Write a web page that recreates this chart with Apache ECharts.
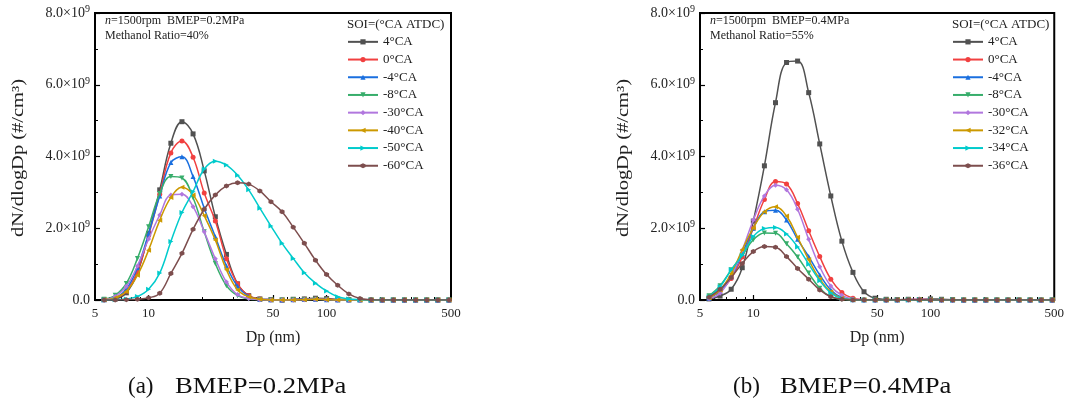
<!DOCTYPE html>
<html><head><meta charset="utf-8">
<script src="https://cdn.jsdelivr.net/npm/echarts@6/dist/echarts.min.js"></script>
<style>html,body{margin:0;padding:0;background:#fff}#c{width:1067px;height:406px}</style>
</head><body><div id="c"></div>
<script>
// Particle diameter channels (nm)
const dp = [5.62, 6.49, 7.50, 8.66, 10.0, 11.55, 13.34, 15.40, 17.78, 20.54, 23.71, 27.38, 31.62, 36.52, 42.17, 48.70,
            56.23, 64.94, 74.99, 86.60, 100.0, 115.48, 133.35, 153.99, 177.83, 205.35, 237.14, 273.84, 316.23, 365.17, 421.70, 486.97];
const xLabelValues = [5, 10, 50, 100, 500];
const xMajorTicks = [10, 50, 100];
const xMinorTicks = [6, 7, 8, 9, 20, 30, 40, 60, 70, 80, 90, 200, 300, 400];

// (a) BMEP = 0.2 MPa, values in 10^9 #/cm^3
const namesA = ['4°CA', '0°CA', '-4°CA', '-8°CA', '-30°CA', '-40°CA', '-50°CA', '-60°CA'];
const a_p4  = [0.01,0.03,0.20,0.75,1.85,3.07,4.37,4.97,4.63,3.60,2.32,1.27,0.45,0.12,0.03,0.01,0.00,0.02,0.03,0.05,0.04,0.02,0.01,0.01,0,0,0,0,0,0,0,0];
const a_0   = [0.01,0.05,0.25,0.80,1.80,2.95,4.10,4.43,3.98,2.98,2.20,1.15,0.45,0.12,0.03,0.01,0,0.01,0.02,0.03,0.02,0.01,0,0,0,0,0,0,0,0,0,0];
const a_m4  = [0.01,0.06,0.30,0.90,1.85,2.90,3.83,3.99,3.44,2.56,1.76,0.95,0.38,0.10,0.02,0.01,0,0.01,0.02,0.02,0.01,0,0,0,0,0,0,0,0,0,0,0];
const a_m8  = [0.02,0.13,0.46,1.16,2.04,2.97,3.44,3.40,2.85,1.90,1.02,0.40,0.12,0.03,0.01,0,0,0.01,0.01,0.02,0.01,0,0,0,0,0,0,0,0,0,0,0];
const a_m30 = [0.01,0.10,0.38,0.95,1.70,2.37,2.93,2.95,2.60,1.90,1.15,0.50,0.15,0.04,0.01,0,0,0,0.01,0.02,0.01,0,0,0,0,0,0,0,0,0,0,0];
const a_m40 = [0.01,0.06,0.24,0.69,1.39,2.22,2.86,3.14,2.93,2.35,1.67,0.84,0.28,0.09,0.02,0,0,0,0.01,0.02,0.01,0,0,0,0,0,0,0,0,0,0,0];
const a_m50 = [0,0.01,0.03,0.10,0.30,0.75,1.63,2.44,3.02,3.65,3.87,3.76,3.48,3.07,2.56,2.06,1.58,1.16,0.76,0.47,0.25,0.09,0.03,0.01,0,0,0,0,0,0,0,0];
const a_m60 = [0,0,0.01,0.02,0.06,0.19,0.74,1.30,1.97,2.53,2.93,3.18,3.27,3.23,3.04,2.74,2.46,2.03,1.58,1.11,0.71,0.41,0.17,0.04,0.01,0,0,0,0,0,0,0];

// (b) BMEP = 0.4 MPa
const namesB = ['4°CA', '0°CA', '-4°CA', '-8°CA', '-30°CA', '-32°CA', '-34°CA', '-36°CA'];
const b_p4  = [0.03,0.11,0.30,0.90,2.20,3.74,5.50,6.62,6.66,5.78,4.35,2.90,1.64,0.77,0.23,0.05,0.02,0.01,0.02,0.01,0.03,0.02,0.01,0,0,0,0,0,0,0,0,0];
const b_0   = [0.05,0.25,0.60,1.20,2.00,2.80,3.30,3.23,2.69,1.93,1.21,0.58,0.21,0.05,0.01,0,0,0.01,0.01,0.02,0.01,0,0,0,0,0,0,0,0,0,0,0];
const b_m4  = [0.05,0.25,0.65,1.30,2.00,2.46,2.50,2.23,1.69,1.21,0.70,0.28,0.07,0.01,0,0,0,0,0.01,0.01,0,0,0,0,0,0,0,0,0,0,0,0];
const b_m8  = [0.12,0.40,0.84,1.25,1.68,1.87,1.86,1.57,1.20,0.75,0.33,0.09,0.02,0,0,0,0,0,0.01,0.01,0,0,0,0,0,0,0,0,0,0,0,0];
const b_m30 = [0.04,0.19,0.65,1.39,2.23,2.90,3.20,3.07,2.53,1.69,0.93,0.39,0.13,0.03,0.01,0,0,0,0.01,0.02,0.01,0,0,0,0,0,0,0,0,0,0,0];
const b_m32 = [0.06,0.28,0.74,1.40,2.01,2.46,2.60,2.34,1.75,1.12,0.58,0.23,0.05,0.01,0,0,0,0,0.01,0.01,0,0,0,0,0,0,0,0,0,0,0,0];
const b_m34 = [0.09,0.37,0.84,1.25,1.77,1.99,2.02,1.84,1.48,1.00,0.54,0.20,0.04,0.01,0,0,0,0,0,0.01,0,0,0,0,0,0,0,0,0,0,0,0];
const b_m36 = [0.08,0.30,0.63,1.02,1.35,1.49,1.47,1.21,0.88,0.58,0.28,0.09,0.02,0,0,0,0,0,0.01,0.01,0,0,0,0,0,0,0,0,0,0,0,0];

const valuesA = [a_p4, a_0, a_m4, a_m8, a_m30, a_m40, a_m50, a_m60];
const valuesB = [b_p4, b_0, b_m4, b_m8, b_m30, b_m32, b_m34, b_m36];

const colors = ['#515151', '#F14040', '#1A6FDF', '#37AD6B', '#B177DE', '#CC9900', '#00CBCC', '#7D4E4E'];
const symbols = ['rect', 'circle', 'triangle', 'path://M0,0 L10,0 L5,10 Z', 'diamond',
                 'path://M10,0 L10,10 L0,5 Z', 'path://M0,0 L0,10 L10,5 Z', 'path://M5,0 L10,2.6 L10,7.4 L5,10 L0,7.4 L0,2.6 Z'];

const FONT = '"Liberation Serif","Times New Roman",serif';
const TXT = '#222';
const gridW = 356, gridH = 287, gridTop = 13;
const gridLefts = [95, 700];

function xAxes(gi) {
  return [
    { type: 'log', logBase: 10, gridIndex: gi, min: 5, max: 500, position: 'bottom',
      name: 'Dp (nm)', nameLocation: 'middle', nameGap: 30,
      nameTextStyle: { fontFamily: FONT, fontSize: 16, color: TXT },
      axisLine: { show: true, lineStyle: { color: '#000', width: 2 } },
      axisTick: { show: true, inside: true, length: 5, customValues: xMajorTicks, lineStyle: { color: '#000', width: 1.2 } },
      axisLabel: { show: true, customValues: xLabelValues, margin: 7, fontFamily: FONT, fontSize: 13, color: TXT },
      splitLine: { show: false }, minorTick: { show: false } },
    { type: 'log', logBase: 10, gridIndex: gi, min: 5, max: 500, position: 'bottom', offset: 0,
      axisLine: { show: false },
      axisTick: { show: true, inside: true, length: 3, customValues: xMinorTicks, lineStyle: { color: '#000', width: 1 } },
      axisLabel: { show: false }, splitLine: { show: false } }
  ];
}
function yAxis(gi) {
  return { type: 'value', gridIndex: gi, min: 0, max: 8, interval: 2,
    axisLine: { show: true, lineStyle: { color: '#000', width: 2 } },
    axisTick: { show: true, inside: true, length: 5, lineStyle: { color: '#000', width: 1.2 } },
    minorTick: { show: true, splitNumber: 2, length: 3, lineStyle: { color: '#000', width: 1 } },
    splitLine: { show: false },
    axisLabel: { margin: 5, fontFamily: FONT, fontSize: 14, color: TXT,
      formatter: v => v === 0 ? '{b|0.0}' : '{b|' + v.toFixed(1) + '×10}{s|9}',
      rich: { b: { fontFamily: FONT, fontSize: 14, color: TXT },
              s: { fontFamily: FONT, fontSize: 10, color: TXT, verticalAlign: 'bottom', padding: [0, 0, 7, 0] } } }
  };
}

const series = [];
[valuesA, valuesB].forEach((vals, gi) => {
  const names = gi === 0 ? namesA : namesB;
  vals.forEach((arr, i) => {
    series.push({
      type: 'line', name: names[i], xAxisIndex: gi * 2, yAxisIndex: gi,
      data: dp.map((d, k) => [d, arr[k]]),
      smooth: 0.4, symbol: symbols[i], symbolSize: 5, showSymbol: true,
      lineStyle: { color: colors[i], width: 1.5 }, itemStyle: { color: colors[i] },
      emphasis: { disabled: true }, animation: false, z: 2 + i
    });
  });
});

function legend(gi) {
  return { show: true, orient: 'vertical', left: gridLefts[gi] + 252, top: 33, padding: 0,
    data: gi === 0 ? namesA : namesB, selectedMode: false,
    itemWidth: 30, itemHeight: 6.5, itemGap: 0,
    textStyle: { fontFamily: FONT, fontSize: 13, color: TXT, lineHeight: 17.7 } };
}

const graphic = [];
[['0.2', '40', '(a)', 'BMEP=0.2MPa'], ['0.4', '55', '(b)', 'BMEP=0.4MPa']].forEach((t, gi) => {
  const gl = gridLefts[gi];
  graphic.push({ type: 'text', left: gl + 10, top: 15,
    style: { text: '{i|n}=1500rpm  BMEP=' + t[0] + 'MPa', font: '12px ' + FONT, fill: TXT,
      rich: { i: { fontStyle: 'italic', fontFamily: FONT, fontSize: 12, fill: TXT } } } });
  graphic.push({ type: 'text', left: gl + 10, top: 30,
    style: { text: 'Methanol Ratio=' + t[1] + '%', font: '12px ' + FONT, fill: TXT } });
  graphic.push({ type: 'text', left: gl + 252, top: 18,
    style: { text: 'SOI=(°CA ATDC)', font: '13px ' + FONT, fill: TXT } });
  // y-axis title
  graphic.push({ type: 'text', x: gl - 76, y: 158, rotation: Math.PI / 2, scaleX: 1.28,
    style: { text: 'dN/dlogDp (#/cm³)', font: '16px ' + FONT, fill: TXT, textAlign: 'center', textVerticalAlign: 'middle' } });
  // captions
  graphic.push({ type: 'text', x: gl + 33, y: 387,
    style: { text: t[2], font: '23px ' + FONT, fill: '#111', textAlign: 'left', textVerticalAlign: 'middle' } });
  graphic.push({ type: 'text', x: gl + 80, y: 387, scaleX: 1.16,
    style: { text: t[3], font: '23px ' + FONT, fill: '#111', textAlign: 'left', textVerticalAlign: 'middle' } });
});

const chart = echarts.init(document.getElementById('c'), null, { renderer: 'canvas' });
chart.setOption({
  animation: false,
  backgroundColor: '#fff',
  color: colors,
  grid: gridLefts.map(l => ({ left: l, top: gridTop, width: gridW, height: gridH, show: true,
    borderColor: '#000', borderWidth: 2, backgroundColor: 'transparent', containLabel: false })),
  xAxis: [...xAxes(0), ...xAxes(1)],
  yAxis: [yAxis(0), yAxis(1)],
  legend: [legend(0), legend(1)],
  series: series,
  graphic: graphic
});
</script></body></html>
